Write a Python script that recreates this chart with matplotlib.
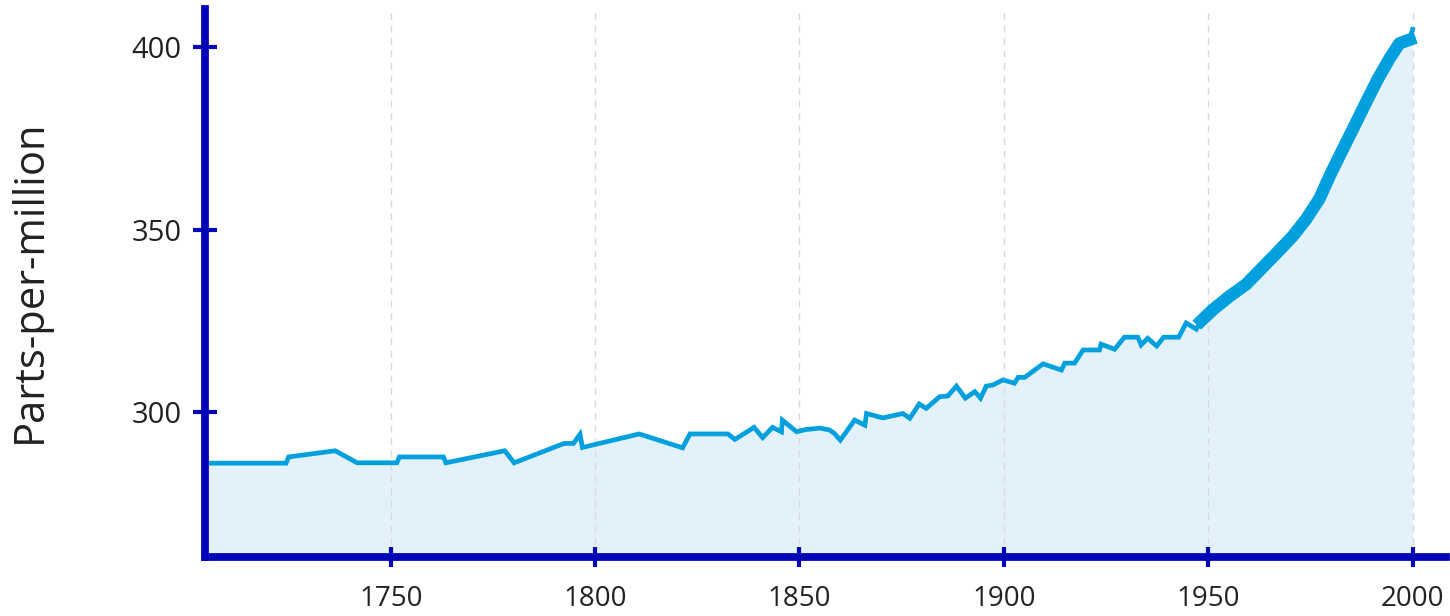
import matplotlib
matplotlib.use("Agg")
from matplotlib import pyplot as plt
import numpy as np

plt.rcParams['font.family'] = ['Open Sans', 'DejaVu Sans']

# ice-core part of the record (thin line)
ice_year = [1704.6, 1724.4, 1725.0, 1736.4, 1741.8, 1751.5, 1752.1, 1762.9, 1763.5,
            1777.9, 1780.2, 1792.4, 1794.7, 1796.3, 1796.9, 1810.8, 1821.4, 1823.2,
            1832.5, 1834.2, 1838.9, 1841.0, 1843.4, 1845.6, 1845.8, 1849.3, 1851.5,
            1855.0, 1857.3, 1858.5, 1860.0, 1863.5, 1866.0, 1866.4, 1870.4, 1875.3,
            1877.0, 1879.3, 1881.0, 1884.3, 1886.3, 1888.4, 1890.6, 1892.9, 1894.3,
            1895.7, 1897.3, 1899.8, 1902.6, 1903.5, 1905.1, 1909.6, 1914.1, 1914.9,
            1917.3, 1919.4, 1923.4, 1923.8, 1927.1, 1929.5, 1932.8, 1933.6, 1935.2,
            1937.4, 1939.1, 1942.8, 1944.6, 1947.1]
ice_ppm = [286.0, 286.0, 287.7, 289.4, 286.1, 286.1, 287.7, 287.7, 286.1,
           289.4, 286.1, 291.4, 291.4, 293.9, 290.3, 294.0, 290.2, 294.0,
           294.0, 292.5, 295.8, 293.0, 295.8, 294.6, 297.8, 294.6, 295.2,
           295.6, 295.1, 294.2, 292.3, 297.8, 296.4, 299.6, 298.4, 299.6,
           298.3, 302.2, 301.0, 304.2, 304.4, 307.1, 303.8, 305.6, 303.8,
           307.1, 307.4, 308.8, 307.9, 309.5, 309.5, 313.2, 311.5, 313.4,
           313.4, 317.0, 317.0, 318.6, 317.2, 320.5, 320.5, 318.4, 320.2,
           318.1, 320.5, 320.5, 324.4, 322.7]

# direct measurements (thick seasonal band)
ml_year = [1947.1, 1948.3, 1951.1, 1955.2, 1959.3, 1963.3, 1967.4, 1970.7, 1974.0,
           1977.2, 1979.7, 1982.1, 1985.4, 1988.6, 1991.5, 1994.3, 1996.8, 1999.3]
ml_ppm = [322.7, 325.0, 328.0, 331.7, 335.0, 339.6, 344.3, 348.2, 352.9,
          358.4, 364.6, 370.1, 377.5, 384.8, 391.2, 396.7, 401.0, 402.0]
last_year = [1999.3, 2000.0]
last_ppm = [402.0, 404.8]

x_ticks = [1750, 1800, 1850, 1900, 1950, 2000]
y_ticks = [300, 350, 400]

line_col = '#00A0DE'
fill_col = '#E3F2FA'
axis_col = '#0505B8'
text_col = '#222222'

all_year = ice_year + ml_year[1:] + last_year[1:]
all_ppm = ice_ppm + ml_ppm[1:] + last_ppm[1:]

fig = plt.figure(figsize=(14.5, 6.16), dpi=100)
ax = fig.add_axes([0.1414, 0.0958, 0.997 - 0.1414, 0.9854 - 0.0958])

ymin, ymax = 260.3, 410.4
ax.fill_between(all_year, all_ppm, ymin, color=fill_col, lw=0, zorder=1)
ax.plot(all_year, all_ppm, color=line_col, lw=3.4, zorder=3, solid_joinstyle='miter')
ax.plot(ml_year[1:], ml_ppm[1:], color=line_col, lw=9, zorder=3)

ax.set_xlim(1704.56, 2008.1)
ax.set_ylim(ymin, ymax)
ax.set_xticks(x_ticks)
ax.set_yticks(y_ticks)

ax.grid(axis='x', color='#d9d9d9', lw=1.0, ls=(0, (5, 4)), zorder=2)
ax.grid(axis='y', visible=False)
ax.set_axisbelow(False)

for side in ['top', 'right']:
    ax.spines[side].set_visible(False)
for side in ['left', 'bottom']:
    ax.spines[side].set_color(axis_col)
    ax.spines[side].set_linewidth(5.6)
    ax.spines[side].set_zorder(4)

ax.tick_params(axis='x', direction='inout', length=14, width=3, color=axis_col,
               labelsize=20, labelcolor=text_col, pad=13)
ax.tick_params(axis='y', direction='inout', length=17.5, width=3, color=axis_col,
               labelsize=21, labelcolor=text_col, pad=8)

fig.text(30 / 1450, 1 - 281 / 616, 'Parts-per-million', rotation=90,
         ha='center', va='center', fontsize=30, color=text_col)

fig.savefig('out.png', dpi=100)
